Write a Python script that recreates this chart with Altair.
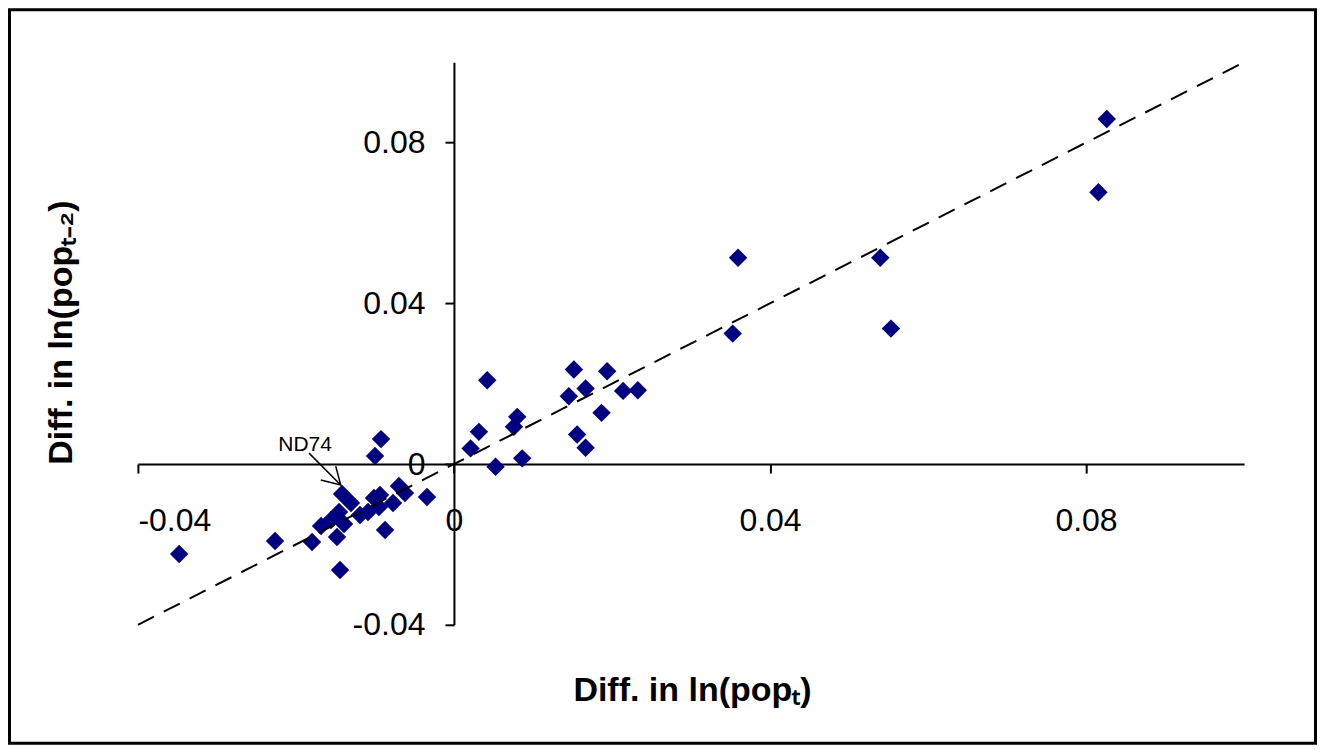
import altair as alt
import pandas as pd

# ---- data ----
x_vals = [
    -0.01416, -0.01303, -0.01189, -0.01454, -0.01682, -0.01556, -0.01391, -0.01796,
    -0.01480, -0.01442, -0.01012, -0.00936, -0.01088, -0.00949, -0.00771, -0.00872,
    -0.00696, -0.00620, -0.00341, -0.00999, -0.00923, -0.02264, -0.03478,
    0.00421, 0.00316, 0.00211, 0.00527, 0.00801, 0.00759, 0.00864, 0.01518,
    0.01454, 0.01666, 0.01939, 0.01559, 0.01666, 0.01868, 0.02141, 0.02327,
    0.03596, 0.03528, 0.05396, 0.05531, 0.08262, 0.08157,
]
y_vals = [
    -0.00745, -0.00969, -0.01267, -0.01193, -0.01540, -0.01391, -0.01491, -0.01938,
    -0.01814, -0.02634, -0.00845, -0.00770, -0.01193, -0.01068, -0.00969, -0.01640,
    -0.00547, -0.00720, -0.00820, 0.00199, 0.00621, -0.01913, -0.02236,
    0.02087, 0.00802, 0.00390, -0.00067, 0.01175, 0.00927, 0.00142, 0.02353,
    0.01689, 0.01881, 0.02311, 0.00738, 0.00405, 0.01275, 0.01821, 0.01839,
    0.05135, 0.03247, 0.05135, 0.03371, 0.08589, 0.06765,
]
line_x = [-0.04, 0.1]
line_y = [-0.04, 0.1]
tick_values = [-0.04, 0.0, 0.04, 0.08]

note_text = ["ND74"]
note_x = [-0.01884]
note_y = [0.00472]
arrow_x = [-0.01834, -0.01433]
arrow_y = [0.00273, -0.00522]
arrow_tip_x = [-0.01433]
arrow_tip_y = [-0.00522]

X_DOMAIN = [-0.04, 0.1]
Y_DOMAIN = [-0.04, 0.1]
W, H = 1107, 563
PAD = {"left": 130, "top": 54, "right": 73, "bottom": 120}

# offsets that move the axes to cross at zero
x_axis_off = -(0 - Y_DOMAIN[0]) / (Y_DOMAIN[1] - Y_DOMAIN[0]) * H
y_axis_off = -(0 - X_DOMAIN[0]) / (X_DOMAIN[1] - X_DOMAIN[0]) * W

FONT = "Liberation Sans"
label_expr = "datum.value == 0 ? '0' : (datum.value < 0 ? '-' : '') + format(abs(datum.value), '.2f')"

common_axis = dict(
    values=tick_values, labelExpr=label_expr, grid=False,
    domainColor="black", domainWidth=2, tickColor="black", tickWidth=2, tickSize=9,
    labelFont=FONT, labelFontSize=32, labelColor="black",
    titleFont=FONT, titleFontSize=34, titleFontWeight="bold", titleColor="black",
)

xs = alt.Scale(domain=X_DOMAIN, nice=False, zero=False)
ys = alt.Scale(domain=Y_DOMAIN, nice=False, zero=False)

x_axis = alt.Axis(
    offset=x_axis_off, labelPadding=32, title="Diff. in ln(popₜ)",
    titleX=W / 2 + 1, titleY=237, titleAlign="center", titleBaseline="alphabetic",
    **common_axis,
)
y_axis = alt.Axis(
    offset=y_axis_off, labelPadding=20, title="Diff. in ln(popₜ₋₂)",
    titleX=-383, titleY=270, titleAngle=270, titleAlign="center", titleBaseline="alphabetic",
    **common_axis,
)

pts = pd.DataFrame({"x": x_vals, "y": y_vals})
points = alt.Chart(pts).mark_point(
    shape="diamond", filled=True, size=340, color="#000080", opacity=1
).encode(
    x=alt.X("x:Q", scale=xs, axis=x_axis),
    y=alt.Y("y:Q", scale=ys, axis=y_axis),
)

diag = alt.Chart(pd.DataFrame({"x": line_x, "y": line_y})).mark_line(
    color="black", strokeWidth=2, strokeDash=[18, 11]
).encode(x=alt.X("x:Q", scale=xs), y=alt.Y("y:Q", scale=ys))

note = alt.Chart(pd.DataFrame({"x": note_x, "y": note_y, "t": note_text})).mark_text(
    font=FONT, fontSize=21, color="black", align="center", baseline="middle"
).encode(x=alt.X("x:Q", scale=xs), y=alt.Y("y:Q", scale=ys), text="t:N")

arrow_line = alt.Chart(pd.DataFrame({"x": arrow_x, "y": arrow_y})).mark_line(
    color="black", strokeWidth=1.5
).encode(x=alt.X("x:Q", scale=xs), y=alt.Y("y:Q", scale=ys))

arrow_head = alt.Chart(pd.DataFrame({"x": arrow_tip_x, "y": arrow_tip_y})).mark_point(
    shape="M-1,-0.25L0,0L-0.25,-0.95", filled=False, stroke="black",
    strokeWidth=1.5, size=1600, opacity=1
).encode(x=alt.X("x:Q", scale=xs), y=alt.Y("y:Q", scale=ys))

border = alt.Chart(pd.DataFrame({"k": [0]})).mark_rect(
    fillOpacity=0, stroke="black", strokeWidth=3
).encode(
    x=alt.value(-PAD["left"] + 1.5), x2=alt.value(W + PAD["right"] - 1.5),
    y=alt.value(-PAD["top"] + 1.5), y2=alt.value(H + PAD["bottom"] - 1.5),
)

chart = alt.layer(points, diag, arrow_line, arrow_head, note, border).properties(
    width=W, height=H,
    autosize=alt.AutoSizeParams(type="none"),
    padding=PAD,
    background="white",
).configure_view(stroke=None)

chart.save("out.html", embed_options={"renderer": "svg", "actions": False})
